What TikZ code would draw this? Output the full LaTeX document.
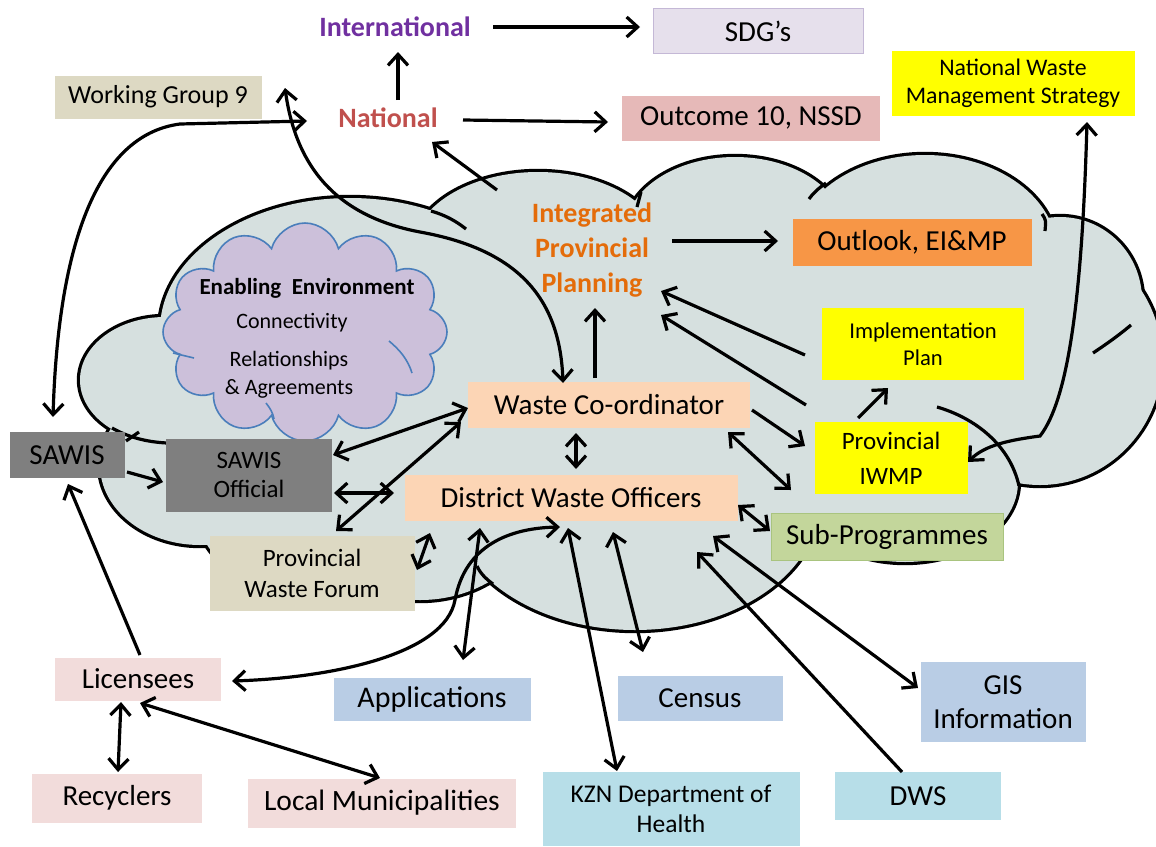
\documentclass[tikz,border=0pt]{standalone}
\usepackage{fontspec}
\setmainfont{Carlito}
\usetikzlibrary{arrows.meta,calc,shapes.symbols}

\definecolor{cloudfill}{HTML}{D6E0DF}
\definecolor{envfill}{HTML}{CCC0DA}
\definecolor{envline}{HTML}{4A7EBB}
\definecolor{sdgfill}{HTML}{E6E0EC}
\definecolor{sdgline}{HTML}{C4B8D6}
\definecolor{tanfill}{HTML}{DDD9C3}
\definecolor{rosefill}{HTML}{E6B9B8}
\definecolor{signal}{HTML}{FFFF00}
\definecolor{orangefill}{HTML}{F79646}
\definecolor{peach}{HTML}{FCD5B5}
\definecolor{greybox}{HTML}{7F7F7F}
\definecolor{greenfill}{HTML}{C3D69B}
\definecolor{greenline}{HTML}{A9C47F}
\definecolor{pinkfill}{HTML}{F2DCDB}
\definecolor{bluefill}{HTML}{B9CDE5}
\definecolor{cyanfill}{HTML}{B7DEE8}
\definecolor{intlcol}{HTML}{7030A0}
\definecolor{natlcol}{HTML}{C0504D}
\definecolor{ippcol}{HTML}{E46C0A}

\newcommand{\tsize}[2]{\fontsize{#1pt}{#2pt}\selectfont}
% lobes of the big cloud: x/y/x radius/y radius (pixels)
\newcommand{\cloudlobes}{350/330/190/132, 165/380/85/63, 200/465/100/80,
  310/520/110/70, 420/500/120/100, 635/500/185/130, 905/482/113/80,
  1040/360/122/125, 1060/300/82/83, 925/252/132/97, 735/232/110/75,
  538/250/125/78}

\begin{document}
\begin{tikzpicture}[x=1pt, y=-1pt,
  box/.style={rectangle, inner sep=0pt, align=center, font=\tsize{29}{34}},
  tag/.style={inner sep=0pt, align=center, font=\bfseries\tsize{28}{35}},
  arr/.style={line width=3.2pt, -{Straight Barb[length=11pt,width=20pt]}},
  darr/.style={line width=3.2pt, {Straight Barb[length=11pt,width=20pt]}-{Straight Barb[length=11pt,width=20pt]}},
  tail/.style={line width=3.2pt}]
\useasboundingbox (0,0) rectangle (1156,846);

% big cloud
\begin{scope}
  \clip (0,0) rectangle (1156,846);
  \foreach \cx/\cy/\rx/\ry in \cloudlobes
    \draw[line width=6.4pt] (\cx,\cy) ellipse [x radius=\rx pt, y radius=\ry pt];
  \foreach \cx/\cy/\rx/\ry in \cloudlobes
    \fill[cloudfill] (\cx,\cy) ellipse [x radius=\rx pt, y radius=\ry pt];
  \foreach \cx/\cy/\rx/\ry in {640/380/330/160, 300/440/170/100, 950/360/150/110}
    \fill[cloudfill] (\cx,\cy) ellipse [x radius=\rx pt, y radius=\ry pt];
  % inner arcs
  \draw[tail] (431,211) .. controls (445,215) and (456,221) .. (466,229);
  \draw[tail] (641,192) -- (637,207);
  \draw[tail] (826,183) .. controls (819,188) and (813,193) .. (809,199);
  \draw[tail] (1042,214) .. controls (1046,220) .. (1045,231);
  \draw[tail] (1131,325) .. controls (1118,336) and (1105,345) .. (1093,353);
  \draw[tail] (937,407) .. controls (975,418) and (1010,445) .. (1019,486);
  \draw[tail] (493,584) .. controls (486,579) and (480,573) .. (477,566);
  \draw[tail] (112,428) .. controls (128,437) and (146,442) .. (167,443);
  \draw[tail] (126,441) -- (139,432);
\end{scope}

% enabling environment
\node[cloud, cloud puffs=12, cloud ignores aspect, draw=envline, line width=1.6pt,
  fill=envfill, minimum width=284pt, minimum height=218pt, inner sep=0pt] (env) at (305,332) {};
\draw[envline, line width=1.6pt] (173,353) -- (194,358);
\draw[envline, line width=1.6pt] (389,341) .. controls (400,350) and (408,360) .. (412,373);
\draw[envline, line width=1.6pt] (266,403) .. controls (270,408) and (273,413) .. (274,419);
\node[inner sep=0pt, font=\bfseries\tsize{23}{28}] (envhead) at (307,288) {Enabling\ \ Environment};
\node[inner sep=0pt, font=\tsize{22}{28}] (envconn) at (292,323) {Connectivity};
\node[inner sep=0pt, align=center, font=\tsize{22}{28}] (envrel) at (289,375) {Relationships\\\& Agreements};

% levels
\node[tag, text=intlcol] (intl) at (395,27) {International};
\node[tag, text=natlcol] (natl) at (388,118) {National};
\node[tag, text=ippcol] (ipp) at (592,250) {Integrated\\Provincial\\Planning};

% boxes
\node[box, fill=sdgfill, draw=sdgline, minimum width=210pt, minimum height=45pt] (sdg) at (758,31) {SDG's};
\node[box, fill=tanfill, minimum width=207pt, minimum height=43pt, font=\tsize{26}{30}] (wg9) at (158,97) {Working Group\ 9};
\node[box, fill=rosefill, minimum width=258pt, minimum height=45pt] (outc) at (751,118) {Outcome 10, NSSD};
\node[box, fill=signal, minimum width=243pt, minimum height=65pt, font=\tsize{23.8}{28}] (nwms) at (1013,83) {National Waste\\Management Strategy};
\node[box, fill=orangefill, minimum width=239pt, minimum height=47pt] (outl) at (912,242) {Outlook, EI\&MP};
\node[box, fill=signal, minimum width=202pt, minimum height=72pt, font=\tsize{22.6}{27}] (impl) at (923,344) {Implementation\\Plan};
\node[box, fill=peach, minimum width=282pt, minimum height=46pt] (wco) at (609,405) {Waste Co-ordinator};
\node[box, fill=greybox, minimum width=115pt, minimum height=46pt] (sawis) at (67,455) {SAWIS};
\node[box, fill=greybox, minimum width=166pt, minimum height=73pt, font=\tsize{25}{29}] (sawo) at (249,475) {SAWIS\\Official};
\node[box, fill=signal, minimum width=153pt, minimum height=72pt, font=\tsize{25}{35}] (iwmp) at (891,458) {Provincial\\IWMP};
\node[box, fill=peach, minimum width=333pt, minimum height=46pt] (dwo) at (571,498) {District Waste Officers};
\node[box, fill=greenfill, draw=greenline, minimum width=232pt, minimum height=47pt] (subp) at (887,537) {Sub-Programmes};
\node[box, fill=tanfill, minimum width=205pt, minimum height=75pt, font=\tsize{25}{31}] (forum) at (312,573) {Provincial\\Waste Forum};
\node[box, fill=pinkfill, minimum width=166pt, minimum height=43pt] (lic) at (138,679) {Licensees};
\node[box, fill=bluefill, minimum width=197pt, minimum height=43pt, font=\tsize{30}{34}] (appl) at (432,699) {Applications};
\node[box, fill=bluefill, minimum width=165pt, minimum height=45pt] (census) at (700,698) {Census};
\node[box, fill=bluefill, minimum width=165pt, minimum height=80pt] (gis) at (1003,702) {GIS\\Information};
\node[box, fill=pinkfill, minimum width=170pt, minimum height=49pt] (recy) at (117,798) {Recyclers};
\node[box, fill=pinkfill, minimum width=268pt, minimum height=49pt, font=\tsize{29.5}{34}] (locm) at (382,803) {Local Municipalities};
\node[box, fill=cyanfill, minimum width=257pt, minimum height=74pt, font=\tsize{25.5}{30}] (kzn) at (671,809) {KZN Department\ of\\Health};
\node[box, fill=cyanfill, minimum width=166pt, minimum height=48pt] (dws) at (918,796) {DWS};

% national and international links
\draw[arr] ($(intl)+(98,0)$) -- ($(sdg)+(-118,-4)$);
\draw[arr] ($(natl)+(10,-18)$) -- ($(intl)+(3,25)$);
\draw[arr] ($(natl)+(75,2)$) -- ($(outc)+(-143,4)$);
\draw[arr] ($(ipp)+(-95,-60)$) -- ($(natl)+(44,24)$);
\draw[darr] ($(wg9)+(127,-9)$) .. controls (295,160) and (330,215) .. (420,232)
  .. controls (520,250) and (560,300) .. ($(wco)+(-46,-22)$);
\draw[darr] ($(sawis)+(-14,-38)$) .. controls (58,250) and (95,135) .. (180,124)
  -- ($(natl)+(-81,3)$);

% provincial planning
\draw[arr] ($(wco)+(-14,-27)$) -- ($(ipp)+(3,58)$);
\draw[arr] ($(ipp)+(80,-9)$) -- ($(outl)+(-134,-1)$);
\draw[arr] ($(impl)+(-118,11)$) -- ($(ipp)+(69,41)$);
\draw[arr] ($(iwmp)+(-85,-53)$) -- ($(ipp)+(69,65)$);
\draw[arr] ($(iwmp)+(-33,-40)$) -- ($(impl)+(-35,44)$);
\draw[darr] ($(nwms)+(74,39)$) .. controls (1082,300) and (1068,400) .. (1040,436)
  .. controls (1010,440) and (985,445) .. ($(iwmp)+(77,4)$);
\draw[arr] ($(wco)+(143,5)$) -- ($(iwmp)+(-86,-12)$);
\draw[darr] ($(wco)+(119,27)$) -- ($(subp)+(-96,-47)$);
\draw[darr] ($(dwo)+(167,7)$) -- ($(subp)+(-117,-6)$);
\draw[darr] ($(wco)+(-33,28)$) -- ($(dwo)+(5,-29)$);

% sawis side
\draw[arr] ($(sawis)+(60,17)$) -- ($(sawo)+(-86,7)$);
\draw[darr] ($(sawo)+(84,-20)$) -- ($(wco)+(-141,3)$);
\draw[darr] ($(sawo)+(87,56)$) -- ($(wco)+(-148,17)$);
\draw[darr] ($(sawo)+(85,18)$) -- ($(dwo)+(-177,-5)$);
\draw[darr] ($(forum)+(105,-3)$) -- ($(dwo)+(-141,35)$);

% district officers and partners
\draw[darr] ($(appl)+(31,-39)$) -- ($(dwo)+(-91,30)$);
\draw[darr] ($(lic)+(94,2)$) .. controls (330,678) and (445,655) .. (455,600)
  .. controls (465,545) and (510,528) .. ($(dwo)+(-11,29)$);
\draw[darr] ($(kzn)+(-54,-38)$) -- ($(dwo)+(-3,30)$);
\draw[darr] ($(census)+(-57,-46)$) -- ($(dwo)+(42,34)$);
\draw[darr] ($(gis)+(-85,-14)$) -- ($(dwo)+(142,38)$);
\draw[arr] ($(dws)+(-16,-24)$) -- ($(dwo)+(126,54)$);

% licensees
\draw[arr] ($(lic)+(2,-24)$) -- ($(sawis)+(1,29)$);
\draw[darr] ($(lic)+(-17,23)$) -- ($(recy)+(1,-26)$);
\draw[darr] ($(lic)+(2,24)$) -- ($(locm)+(-2,-25)$);
\end{tikzpicture}
\end{document}
